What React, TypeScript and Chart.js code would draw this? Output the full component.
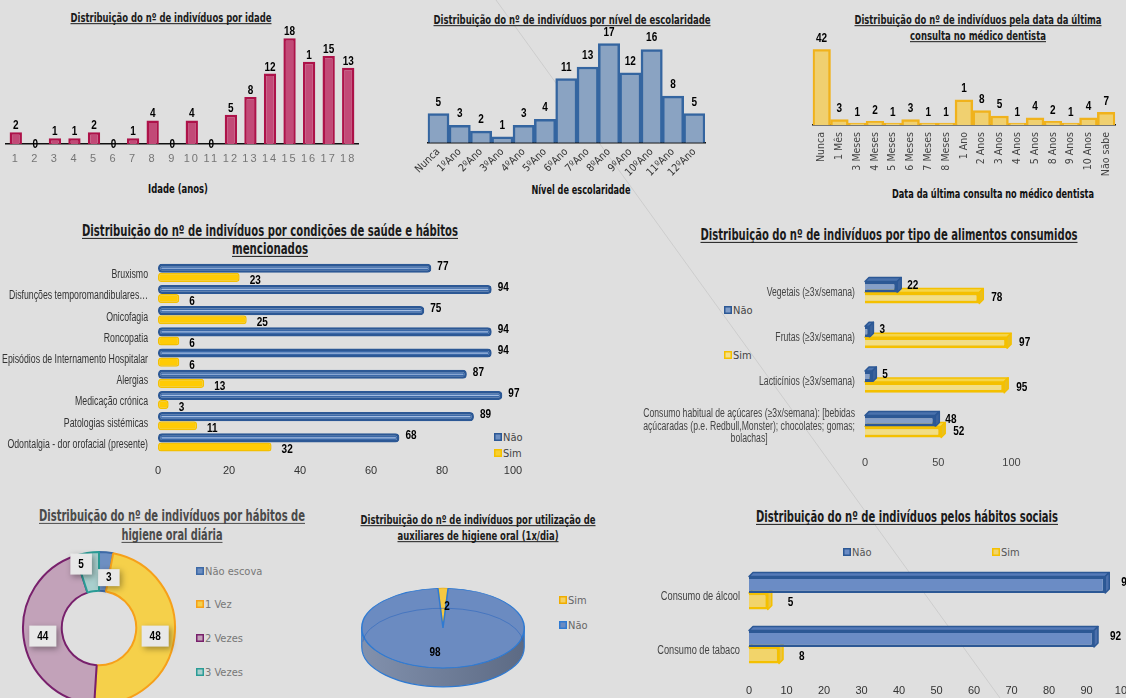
import React, { useEffect, useRef } from 'react';
import { Chart, registerables } from 'chart.js';

Chart.register(...registerables);

const NARROW = "'Liberation Sans Narrow', 'DejaVu Sans Condensed', 'Liberation Sans', sans-serif";
const SANS = "'Liberation Sans', Arial, sans-serif";
const LBL_FONT = `bold 12.5px ${SANS}`;
const LBL_SX = 0.8;

// ---------------- DATA ----------------
const ageCategories = ['1', '2', '3', '4', '5', '6', '7', '8', '9', '10', '11', '12', '13', '14', '15', '16', '17', '18'];
const ageCounts = [2, 0, 1, 1, 2, 0, 1, 4, 0, 4, 0, 5, 8, 12, 18, 14, 15, 13];
const ageValueLabels = ['2', '0', '1', '1', '2', '0', '1', '4', '0', '4', '0', '5', '8', '12', '18', '1', '15', '13'];

const schoolCategories = ['Nunca', '1ºAno', '2ºAno', '3ºAno', '4ºAno', '5ºAno', '6ºAno', '7ºAno', '8ºAno', '9ºAno', '10ºAno', '11ºAno', '12ºAno'];
const schoolCounts = [5, 3, 2, 1, 3, 4, 11, 13, 17, 12, 16, 8, 5];

const dentistCategories = ['Nunca', '1 Mês', '3 Meses', '4 Meses', '5 Meses', '6 Meses', '7 Meses', '8 Meses', '1 Ano', '2 Anos', '3 Anos', '4 Anos', '5 Anos', '8 Anos', '9 Anos', '10 Anos', 'Não sabe'];
const dentistCounts = [42, 3, 1, 2, 1, 3, 1, 1, 14, 8, 5, 1, 4, 2, 1, 4, 7];
const dentistValueLabels = ['42', '3', '1', '2', '1', '3', '1', '1', '1', '8', '5', '1', '4', '2', '1', '4', '7'];

const healthCategories = ['Bruxismo', 'Disfunções temporomandibulares…', 'Onicofagia', 'Roncopatia', 'Episódios de Internamento Hospitalar', 'Alergias', 'Medicação crónica', 'Patologias sistémicas', 'Odontalgia - dor orofacial (presente)'];
const healthNao = [77, 94, 75, 94, 94, 87, 97, 89, 68];
const healthSim = [23, 6, 25, 6, 6, 13, 3, 11, 32];

const foodCategories = [
  ['Vegetais (≥3x/semana)'],
  ['Frutas (≥3x/semana)'],
  ['Lacticínios (≥3x/semana)'],
  ['Consumo habitual de açúcares (≥3x/semana): [bebidas', 'açúcaradas (p.e. Redbull,Monster); chocolates; gomas;', 'bolachas]'],
];
const foodNao = [22, 3, 5, 48];
const foodSim = [78, 97, 95, 52];

const hygieneCategories = ['Não escova', '1 Vez', '2 Vezes', '3 Vezes'];
const hygieneCounts = [3, 48, 44, 5];

const auxCategories = ['Sim', 'Não'];
const auxCounts = [2, 98];

const socialCategories = ['Consumo de álcool', 'Consumo de tabaco'];
const socialNao = [95, 92];
const socialSim = [5, 8];

const seriesNames = ['Não', 'Sim'];

// ---------------- STYLE ----------------
const BLUE_BORDER = '#2c5895';
const YELLOW_BORDER = '#f4c000';

// ---------------- HELPERS ----------------
const fixH = (h: number) => (scale: any) => { scale.height = h; };
const fixHNoPad = (h: number) => (scale: any) => { scale.height = h; scale.paddingRight = 0; scale.paddingLeft = 0; };
const fixW = (w: number) => (scale: any) => { scale.width = w; };
const noPlug = { legend: { display: false }, tooltip: { enabled: false } };

function squeezedText(ctx: CanvasRenderingContext2D, text: string, x: number, y: number, sx: number) {
  ctx.save();
  ctx.translate(x, y);
  ctx.scale(sx, 1);
  ctx.fillText(text, 0, 0);
  ctx.restore();
}

function vBarLabels(labels: string[], gap: number) {
  return {
    id: 'vBarLabels',
    afterDatasetsDraw(chart: any) {
      const ctx = chart.ctx;
      const meta = chart.getDatasetMeta(0);
      const data = chart.data.datasets[0].data;
      ctx.save();
      ctx.font = LBL_FONT;
      ctx.fillStyle = '#000';
      ctx.textAlign = 'center';
      ctx.textBaseline = 'middle';
      meta.data.forEach((el: any, i: number) => {
        const y = data[i] === 0 ? el.base + 1 : el.y - gap;
        squeezedText(ctx, labels[i], el.x, y, LBL_SX);
      });
      ctx.restore();
    },
  };
}

function hBarLabels(dx: number[], dy: number[]) {
  return {
    id: 'hBarLabels',
    afterDatasetsDraw(chart: any) {
      const ctx = chart.ctx;
      ctx.save();
      ctx.font = LBL_FONT;
      ctx.fillStyle = '#000';
      ctx.textAlign = 'left';
      ctx.textBaseline = 'middle';
      chart.data.datasets.forEach((ds: any, di: number) => {
        chart.getDatasetMeta(di).data.forEach((el: any, i: number) => {
          squeezedText(ctx, String(ds.data[i]), el.x + dx[di], el.y + dy[di], LBL_SX);
        });
      });
      ctx.restore();
    },
  };
}

function catLabels(cats: string[][], font: string, color: string, sx: number, gap: number, dy: number, lh: number) {
  return {
    id: 'catLabels',
    afterDraw(chart: any) {
      const ctx = chart.ctx;
      const ys = chart.scales.y;
      ctx.save();
      ctx.font = font;
      ctx.fillStyle = color;
      ctx.textAlign = 'center';
      ctx.textBaseline = 'middle';
      cats.forEach((lines, i) => {
        const cy = ys.getPixelForTick(i) + dy;
        const w = Math.max(...lines.map((l) => ctx.measureText(l).width)) * sx;
        const cx = ys.right - gap - w / 2;
        lines.forEach((l, j) => squeezedText(ctx, l, cx, cy + (j - (lines.length - 1) / 2) * lh, sx));
      });
      ctx.restore();
    },
  };
}

function spacedTicks(spacing: string) {
  return {
    id: 'spacedTicks',
    beforeDraw(chart: any) { chart.ctx.letterSpacing = spacing; },
    beforeDatasetsDraw(chart: any) { chart.ctx.letterSpacing = '0px'; },
  };
}

function shine(colors: string[], width: number, inset: number) {
  return {
    id: 'shine',
    afterDatasetsDraw(chart: any) {
      const ctx = chart.ctx;
      ctx.save();
      ctx.lineWidth = width;
      ctx.lineCap = 'round';
      chart.data.datasets.forEach((_ds: any, di: number) => {
        ctx.strokeStyle = colors[di];
        chart.getDatasetMeta(di).data.forEach((el: any) => {
          const x0 = el.base + inset;
          const x1 = el.x - inset;
          if (x1 - x0 < 1) return;
          ctx.beginPath();
          ctx.moveTo(x0, el.y);
          ctx.lineTo(x1, el.y);
          ctx.stroke();
        });
      });
      ctx.restore();
    },
  };
}

type Face = { top: string; side: string; stroke: string };
function box3d(d: number, faces: Face[]) {
  return {
    id: 'box3d',
    beforeDatasetsDraw(chart: any) {
      const ctx = chart.ctx;
      ctx.save();
      ctx.lineJoin = 'round';
      for (let di = chart.data.datasets.length - 1; di >= 0; di--) {
        const f = faces[di];
        chart.getDatasetMeta(di).data.forEach((el: any) => {
          const top = el.y - el.height / 2;
          const bot = el.y + el.height / 2;
          const x0 = Math.min(el.base, el.x);
          const x1 = Math.max(el.base, el.x);
          ctx.beginPath();
          ctx.moveTo(x0, top);
          ctx.lineTo(x0 + d, top - d);
          ctx.lineTo(x1 + d, top - d);
          ctx.lineTo(x1, top);
          ctx.closePath();
          ctx.fillStyle = f.top;
          ctx.fill();
          ctx.strokeStyle = f.stroke;
          ctx.lineWidth = 1.5;
          ctx.stroke();
          ctx.beginPath();
          ctx.moveTo(x1, top);
          ctx.lineTo(x1 + d, top - d);
          ctx.lineTo(x1 + d, bot - d);
          ctx.lineTo(x1, bot);
          ctx.closePath();
          ctx.fillStyle = f.side;
          ctx.fill();
          ctx.stroke();
        });
      }
      ctx.restore();
    },
  };
}

type Box = { left: number; top: number; width: number; height: number };

function CanvasChart({ box, make }: { box: Box; make: (c: HTMLCanvasElement) => any }) {
  const ref = useRef<HTMLCanvasElement>(null);
  useEffect(() => {
    const ch = make(ref.current as HTMLCanvasElement);
    return () => ch.destroy();
  }, []);
  return (
    <canvas
      ref={ref}
      width={box.width}
      height={box.height}
      style={{ position: 'absolute', left: box.left, top: box.top, width: box.width, height: box.height }}
    />
  );
}

// ---------------- CHARTS ----------------
const ageChart = (c: HTMLCanvasElement) =>
  new Chart(c, {
    type: 'bar',
    data: {
      labels: ageCategories,
      datasets: [{ data: ageCounts, backgroundColor: '#c24a77', borderColor: '#ad1249', borderWidth: 2.5, barPercentage: 0.63, categoryPercentage: 1 }],
    },
    options: {
      responsive: false,
      animation: false,
      layout: { padding: { left: 6, right: 12, top: 6.6, bottom: 0 } },
      plugins: noPlug as any,
      scales: {
        x: {
          grid: { display: false, drawTicks: false },
          border: { display: true, color: '#111', width: 1.5 },
          ticks: { color: '#757575', font: { family: SANS, size: 11 }, padding: 8, maxRotation: 0, autoSkip: false },
          afterFit: fixH(36),
        },
        y: { display: false, min: 0, max: 20 },
      },
    } as any,
    plugins: [spacedTicks('2px'), vBarLabels(ageValueLabels, 6.5)],
  });

const schoolChart = (c: HTMLCanvasElement) =>
  new Chart(c, {
    type: 'bar',
    data: {
      labels: schoolCategories,
      datasets: [{ data: schoolCounts, backgroundColor: '#8aa3c2', borderColor: '#3465a0', borderWidth: 2.5, barPercentage: 1, categoryPercentage: 1 }],
    },
    options: {
      responsive: false,
      animation: false,
      layout: { padding: { left: 22.7, right: 15, top: 6.2, bottom: 0 } },
      plugins: noPlug as any,
      scales: {
        x: {
          grid: { display: false, drawTicks: false },
          border: { display: true, color: '#111', width: 1.5 },
          ticks: { color: '#333', font: { family: NARROW, size: 10.5 }, padding: 3, minRotation: 45, maxRotation: 45, autoSkip: false },
          afterFit: fixH(37.3),
        },
        y: { display: false, min: 0, max: 20 },
      },
    } as any,
    plugins: [vBarLabels(schoolCounts.map(String), 11.5)],
  });

const dentistChart = (c: HTMLCanvasElement) =>
  new Chart(c, {
    type: 'bar',
    data: {
      labels: dentistCategories,
      datasets: [{ data: dentistCounts, backgroundColor: '#f0d070', borderColor: '#f0b21c', borderWidth: 2.5, barPercentage: 1, categoryPercentage: 1 }],
    },
    options: {
      responsive: false,
      animation: false,
      layout: { padding: { left: 12.7, right: 5, top: 19.3, bottom: 0 } },
      plugins: noPlug as any,
      scales: {
        x: {
          grid: { display: false, drawTicks: false },
          border: { display: true, color: '#111', width: 1.5 },
          ticks: { color: '#444', font: { family: NARROW, size: 10.5 }, padding: 7, minRotation: 90, maxRotation: 90, autoSkip: false },
          afterFit: fixH(55),
        },
        y: { display: false, min: 0, max: 42 },
      },
    } as any,
    plugins: [vBarLabels(dentistValueLabels, 11)],
  });

const healthChart = (c: HTMLCanvasElement) =>
  new Chart(c, {
    type: 'bar',
    data: {
      labels: healthCategories,
      datasets: [
        { label: seriesNames[0], data: healthNao, backgroundColor: '#3a68a8', borderColor: BLUE_BORDER, borderWidth: 2.5, borderRadius: 4, borderSkipped: false, barPercentage: 1, categoryPercentage: 0.86 },
        { label: seriesNames[1], data: healthSim, backgroundColor: '#ffcb05', borderColor: YELLOW_BORDER, borderWidth: 1.5, borderRadius: 3, borderSkipped: false, barPercentage: 1, categoryPercentage: 0.86 },
      ],
    },
    options: {
      indexAxis: 'y',
      responsive: false,
      animation: false,
      layout: { padding: { left: 0, right: 27, top: 7.2, bottom: 0 } },
      plugins: noPlug as any,
      scales: {
        y: {
          grid: { display: false, drawTicks: false },
          border: { display: false },
          ticks: { display: false },
          afterFit: fixW(158),
        },
        x: {
          min: 0,
          max: 100,
          grid: { display: false, drawTicks: false },
          border: { display: false },
          ticks: { stepSize: 20, color: '#333', font: { family: SANS, size: 11 }, padding: 11 },
          afterFit: fixH(27),
        },
      },
    } as any,
    plugins: [
      shine(['rgba(190,210,240,0.8)', 'rgba(255,240,160,0.0)'], 1.2, 4),
      hBarLabels([6, 10], [-2, 3]),
      catLabels(healthCategories.map((s) => [s]), `12.5px ${SANS}`, '#333', 0.7, 10, 2, 12),
    ],
  });

const foodChart = (c: HTMLCanvasElement) =>
  new Chart(c, {
    type: 'bar',
    data: {
      labels: foodCategories.map((l) => l.join(' ')),
      datasets: [
        { label: seriesNames[0], data: foodNao, backgroundColor: '#859fc8', borderColor: BLUE_BORDER, borderWidth: 3, barPercentage: 1, categoryPercentage: 0.49 },
        { label: seriesNames[1], data: foodSim, backgroundColor: '#f2de86', borderColor: YELLOW_BORDER, borderWidth: 3, barPercentage: 1, categoryPercentage: 0.49 },
      ],
    },
    options: {
      indexAxis: 'y',
      responsive: false,
      animation: false,
      layout: { padding: { left: 0, right: 114.5, top: 15.2, bottom: 0 } },
      plugins: noPlug as any,
      scales: {
        y: {
          grid: { display: false, drawTicks: false },
          border: { display: false },
          ticks: { display: false },
          afterFit: fixW(305),
        },
        x: {
          min: 0,
          max: 100,
          grid: { display: false, drawTicks: false },
          border: { display: false },
          ticks: { stepSize: 50, color: '#444', font: { family: SANS, size: 11 }, padding: 7 },
          afterFit: fixH(21.1),
        },
      },
    } as any,
    plugins: [
      box3d(4, [
        { top: '#4a72ad', side: '#3b629c', stroke: BLUE_BORDER },
        { top: '#f5d54a', side: '#e9bf20', stroke: YELLOW_BORDER },
      ]),
      hBarLabels([10, 12], [-2, 0]),
      catLabels(foodCategories, `12px ${SANS}`, '#444', 0.72, 10, 0, 12.5),
    ],
  });

const hygieneShift: [number, number][] = [[4.5, 6], [0, 1], [0, 1], [-9, -8]];
const donutBoxes = {
  id: 'donutBoxes',
  afterDatasetsDraw(chart: any) {
    const ctx = chart.ctx;
    const meta = chart.getDatasetMeta(0);
    ctx.save();
    ctx.font = LBL_FONT;
    meta.data.forEach((arc: any, i: number) => {
      const p = arc.tooltipPosition(true);
      const x = p.x + hygieneShift[i][0];
      const y = p.y + hygieneShift[i][1];
      const text = String(hygieneCounts[i]);
      const w = ctx.measureText(text).width * LBL_SX + 16;
      const h = i === 0 ? 17 : 21;
      ctx.save();
      ctx.shadowColor = 'rgba(0,0,0,0.35)';
      ctx.shadowBlur = 6;
      ctx.shadowOffsetX = 2;
      ctx.shadowOffsetY = 2;
      ctx.fillStyle = '#e8e8e8';
      ctx.fillRect(x - w / 2, y - h / 2, w, h);
      ctx.restore();
      ctx.fillStyle = '#000';
      ctx.textAlign = 'center';
      ctx.textBaseline = 'middle';
      squeezedText(ctx, text, x, y, LBL_SX);
    });
    ctx.restore();
  },
};

const hygieneChart = (c: HTMLCanvasElement) =>
  new Chart(c, {
    type: 'doughnut',
    data: {
      labels: hygieneCategories,
      datasets: [{
        data: hygieneCounts,
        backgroundColor: ['#6d8fc2', '#f5d04a', '#c2a2b9', '#a9cfcd'],
        borderColor: ['#3d69a6', '#f6a01a', '#78206c', '#2a9c96'],
        borderWidth: 2,
      }],
    },
    options: {
      responsive: false,
      animation: false,
      cutout: '49%',
      layout: { padding: 2 },
      plugins: noPlug as any,
    } as any,
    plugins: [donutBoxes],
  });

const PIE_TILT = 0.49;
const PIE_DEPTH = 19;
const auxShift: [number, number][] = [[4, -2], [-8, 5]];
const pie3d = {
  id: 'pie3d',
  beforeDatasetsDraw(chart: any) {
    const ctx = chart.ctx;
    const arc = chart.getDatasetMeta(0).data[0];
    const cx = arc.x, cy = arc.y, r = arc.outerRadius;
    const ty = cy - 2;
    ctx.save();
    ctx.beginPath();
    ctx.ellipse(cx, ty + PIE_DEPTH, r, r * PIE_TILT, 0, 0, Math.PI);
    ctx.lineTo(cx - r, ty);
    ctx.ellipse(cx, ty, r, r * PIE_TILT, 0, Math.PI, 0, true);
    ctx.closePath();
    const g = ctx.createLinearGradient(cx - r, 0, cx + r, 0);
    g.addColorStop(0, '#8291ad');
    g.addColorStop(1, '#5c6a84');
    ctx.fillStyle = g;
    ctx.fill();
    ctx.strokeStyle = '#2f7ad2';
    ctx.lineWidth = 1.2;
    ctx.stroke();
    ctx.restore();
    ctx.save();
    ctx.translate(cx, ty);
    ctx.scale(1, PIE_TILT);
    ctx.translate(-cx, -cy);
  },
  afterDatasetsDraw(chart: any) {
    const ctx = chart.ctx;
    ctx.restore();
    const meta = chart.getDatasetMeta(0);
    const arc0 = meta.data[0];
    ctx.save();
    ctx.strokeStyle = 'rgba(40,100,190,0.55)';
    ctx.lineWidth = 1;
    ctx.beginPath();
    ctx.ellipse(arc0.x, arc0.y + 14, arc0.outerRadius - 1, arc0.outerRadius * PIE_TILT - 4, 0, Math.PI * 1.02, Math.PI * 1.98);
    ctx.stroke();
    ctx.restore();
    ctx.save();
    ctx.font = LBL_FONT;
    ctx.fillStyle = '#000';
    ctx.textAlign = 'center';
    ctx.textBaseline = 'middle';
    meta.data.forEach((arc: any, i: number) => {
      const p = arc.tooltipPosition(true);
      const ty = arc.y - 2 + (p.y - arc.y) * PIE_TILT;
      squeezedText(ctx, String(auxCounts[i]), p.x + auxShift[i][0], ty + auxShift[i][1], LBL_SX);
    });
    ctx.restore();
  },
};

const auxChart = (c: HTMLCanvasElement) =>
  new Chart(c, {
    type: 'pie',
    data: {
      labels: auxCategories,
      datasets: [{ data: auxCounts, backgroundColor: ['#f5c842', '#6b8bc1'], borderColor: ['#efad00', '#2f7ad2'], borderWidth: 1.5 }],
    },
    options: {
      responsive: false,
      animation: false,
      rotation: -3.6,
      layout: { padding: 8 },
      plugins: noPlug as any,
    } as any,
    plugins: [pie3d],
  });

const socialChart = (c: HTMLCanvasElement) =>
  new Chart(c, {
    type: 'bar',
    data: {
      labels: socialCategories,
      datasets: [
        { label: seriesNames[0], data: socialNao, backgroundColor: '#6b8cc5', borderColor: BLUE_BORDER, borderWidth: 2.5, barPercentage: 1, categoryPercentage: 0.61 },
        { label: seriesNames[1], data: socialSim, backgroundColor: '#f2d46a', borderColor: YELLOW_BORDER, borderWidth: 2.5, barPercentage: 1, categoryPercentage: 0.61 },
      ],
    },
    options: {
      indexAxis: 'y',
      responsive: false,
      animation: false,
      layout: { padding: { left: 0, right: 2, top: 26, bottom: 0 } },
      plugins: noPlug as any,
      scales: {
        y: {
          grid: { display: false, drawTicks: false },
          border: { display: false },
          ticks: { display: false },
          afterFit: fixW(119),
        },
        x: {
          min: 0,
          max: 100,
          grid: { display: false, drawTicks: false },
          border: { display: false },
          ticks: { stepSize: 10, autoSkip: false, color: '#333', font: { family: SANS, size: 11 }, padding: 10 },
          afterFit: fixHNoPad(24),
        },
      },
    } as any,
    plugins: [
      box3d(4, [
        { top: '#557ab8', side: '#4a6eaa', stroke: BLUE_BORDER },
        { top: '#f5dc7a', side: '#ebc440', stroke: YELLOW_BORDER },
      ]),
      hBarLabels([16, 20], [-2, 1]),
      catLabels(socialCategories.map((s) => [s]), `12.5px ${SANS}`, '#444', 0.74, 9, 4, 12),
    ],
  });

// ---------------- SVG TEXT OVERLAY ----------------
type TitleSpec = { x: number; y: number; lines: string[]; widths: number[]; size: number; lh: number; color?: string };
const titles: TitleSpec[] = [
  { x: 171, y: 17, lines: ['Distribuição do nº de indivíduos por idade'], widths: [201], size: 13, lh: 16 },
  { x: 572, y: 19, lines: ['Distribuição do nº de indivíduos por nível de escolaridade'], widths: [277], size: 13, lh: 16 },
  { x: 978, y: 19, lines: ['Distribuição do nº de indivíduos pela data da última', 'consulta no médico dentista'], widths: [247, 136], size: 13, lh: 16 },
  { x: 270, y: 231, lines: ['Distribuição do nº de indivíduos por condições de saúde e hábitos', 'mencionados'], widths: [376, 76], size: 15, lh: 18 },
  { x: 889, y: 235, lines: ['Distribuição do nº de indivíduos por tipo de alimentos consumidos'], widths: [377], size: 15, lh: 18 },
  { x: 172, y: 516, lines: ['Distribuição do nº de indivíduos por hábitos de', 'higiene oral diária'], widths: [266, 101], size: 15, lh: 19, color: '#4a4a4a' },
  { x: 478, y: 519, lines: ['Distribuição do nº de indivíduos por utilização de', 'auxiliares de higiene oral (1x/dia)'], widths: [235, 161], size: 13, lh: 16 },
  { x: 907, y: 517, lines: ['Distribuição do nº de indivíduos pelos hábitos sociais'], widths: [302], size: 15, lh: 18 },
];

const axisTitles = [
  { x: 178, y: 188, text: 'Idade (anos)', w: 60 },
  { x: 581, y: 189, text: 'Nível de escolaridade', w: 99 },
  { x: 993, y: 193, text: 'Data da última consulta no médico dentista', w: 202 },
];

type LegendSpec = { x: number; y: number; label: string; stroke: string; fill: string; color: string };
const legends: LegendSpec[] = [
  { x: 494, y: 437, label: seriesNames[0], stroke: BLUE_BORDER, fill: '#6d8fc2', color: '#444' },
  { x: 494, y: 453, label: seriesNames[1], stroke: YELLOW_BORDER, fill: '#f8d030', color: '#444' },
  { x: 724, y: 310, label: seriesNames[0], stroke: BLUE_BORDER, fill: '#7f9cc8', color: '#444' },
  { x: 724, y: 355, label: seriesNames[1], stroke: YELLOW_BORDER, fill: '#f5e08a', color: '#444' },
  { x: 196, y: 571, label: hygieneCategories[0], stroke: '#3d69a6', fill: '#6d8fc2', color: '#777' },
  { x: 196, y: 604, label: hygieneCategories[1], stroke: '#f6a01a', fill: '#f5d04a', color: '#777' },
  { x: 196, y: 638, label: hygieneCategories[2], stroke: '#78206c', fill: '#c2a2b9', color: '#777' },
  { x: 196, y: 672, label: hygieneCategories[3], stroke: '#2a9c96', fill: '#a9cfcd', color: '#777' },
  { x: 559, y: 600, label: auxCategories[0], stroke: '#efad00', fill: '#f5d060', color: '#666' },
  { x: 559, y: 625, label: auxCategories[1], stroke: '#2f7ad2', fill: '#6b8bc1', color: '#666' },
  { x: 843, y: 552, label: seriesNames[0], stroke: BLUE_BORDER, fill: '#6b8cc5', color: '#555' },
  { x: 992, y: 552, label: seriesNames[1], stroke: YELLOW_BORDER, fill: '#f2d46a', color: '#555' },
];

function Overlay() {
  return (
    <svg width={1126} height={698} style={{ position: 'absolute', left: 0, top: 0 }}>
      <line x1={496} y1={0} x2={1000} y2={698} stroke="#cdcdcd" strokeWidth={1} />
      {titles.map((t, ti) =>
        t.lines.map((line, i) => {
          const yMid = t.y + i * t.lh;
          const base = yMid + t.size * 0.36;
          const w = t.widths[i];
          const col = t.color || '#1a1a1a';
          return (
            <g key={`t${ti}-${i}`}>
              <text x={t.x} y={base} textAnchor="middle" fontFamily={NARROW} fontWeight="bold" fontSize={t.size}
                textLength={w} lengthAdjust="spacingAndGlyphs" fill={col}>{line}</text>
              <line x1={t.x - w / 2} x2={t.x + w / 2} y1={base + 2} y2={base + 2} stroke={col} strokeWidth={1} />
            </g>
          );
        })
      )}
      {axisTitles.map((a, i) => (
        <text key={`a${i}`} x={a.x} y={a.y + 4.7} textAnchor="middle" fontFamily={NARROW} fontWeight="bold" fontSize={13}
          textLength={a.w} lengthAdjust="spacingAndGlyphs" fill="#111">{a.text}</text>
      ))}
      {legends.map((l, i) => (
        <g key={`l${i}`}>
          <rect x={l.x + 0.75} y={l.y - 3.25} width={6.5} height={6.5} fill={l.fill} stroke={l.stroke} strokeWidth={1.5} />
          <text x={l.x + 9} y={l.y + 4} fontFamily={NARROW} fontSize={11} fill={l.color}>{l.label}</text>
        </g>
      ))}
    </svg>
  );
}

export default function App() {
  return (
    <div style={{ position: 'fixed', left: 0, top: 0, width: 1126, height: 698, overflow: 'hidden', background: '#dfdfdf' }}>
      <Overlay />
      <CanvasChart box={{ left: 0, top: 20, width: 370, height: 160 }} make={ageChart} />
      <CanvasChart box={{ left: 405, top: 20, width: 315, height: 160 }} make={schoolChart} />
      <CanvasChart box={{ left: 800, top: 30, width: 326, height: 150 }} make={dentistChart} />
      <CanvasChart box={{ left: 0, top: 255, width: 540, height: 225 }} make={healthChart} />
      <CanvasChart box={{ left: 560, top: 255, width: 566, height: 215 }} make={foodChart} />
      <CanvasChart box={{ left: 20, top: 549, width: 158, height: 158 }} make={hygieneChart} />
      <CanvasChart box={{ left: 353, top: 540, width: 180, height: 180 }} make={auxChart} />
      <CanvasChart box={{ left: 630, top: 540, width: 496, height: 158 }} make={socialChart} />
    </div>
  );
}
